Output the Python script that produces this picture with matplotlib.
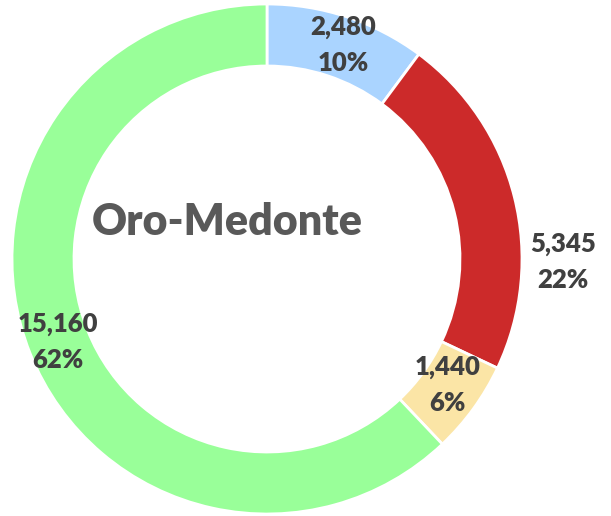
import numpy as np
from matplotlib import pyplot as plt

# data
categories = ["A", "B", "C", "D"]
values = [2480, 5345, 1440, 15160]
colors = ["#aad4ff", "#cc2a2a", "#fbe5a6", "#99ff99"]
title = "Oro-Medonte"

plt.rcParams['font.family'] = ['Lato', 'DejaVu Sans']

fig = plt.figure(figsize=(6.11, 5.16), dpi=100)
ax = fig.add_axes([0, 0, 1, 1])

cx, cy = 267, 257
r_out, ring = 255, 62

wedges, _ = ax.pie(values, colors=colors, startangle=90, counterclock=False,
                   center=(cx, cy), radius=r_out, frame=True,
                   wedgeprops=dict(width=ring, edgecolor="white", linewidth=2))
ax.set_xlim(0, 611)
ax.set_ylim(0, 516)
ax.set_aspect('equal')
ax.axis('off')

total = sum(values)
# label radius / angle tweak per wedge (red label sits outside the ring)
lab_r = [227, 296, 220, 225]
lab_da = [-1.3, -14.7, 1.1, 0.0]
for w, v, r, da in zip(wedges, values, lab_r, lab_da):
    ang = np.deg2rad((w.theta1 + w.theta2) / 2 + da)
    x = cx + r * np.cos(ang)
    y = cy + r * np.sin(ang)
    ax.text(x, y, f"{v:,}\n{v / total:.0%}", ha="center", va="center",
            fontsize=18.5, fontweight="heavy", color="#404040", linespacing=1.6)

ax.text(227, 294, title, ha="center", va="center", fontsize=31,
        fontweight="heavy", color="#595959")

plt.savefig("out.png", dpi=100)
